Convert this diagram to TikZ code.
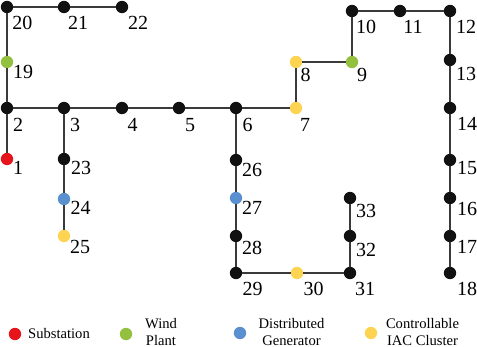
\documentclass[tikz,border=0pt]{standalone}
\usepackage{fontspec}
\setmainfont{Liberation Serif}
\definecolor{cRed}{HTML}{E8141C}
\definecolor{cGreen}{HTML}{93C13F}
\definecolor{cBlue}{HTML}{5A90CF}
\definecolor{cYellow}{HTML}{FDD452}
\definecolor{cBlack}{HTML}{111111}
\definecolor{cEdge}{HTML}{3A3A3A}
\begin{document}
\begin{tikzpicture}[x=1pt,y=-1pt,
  bus/.style={circle,fill=#1,inner sep=0pt,minimum size=12.4pt},
  bus/.default=cBlack,
  lbl/.style={inner sep=0pt,font=\fontsize{20}{24}\selectfont},
  wire/.style={draw=cEdge,line width=1.6pt},
  leg/.style={inner sep=0pt,font=\fontsize{14.6}{16.5}\selectfont,align=center}]
\useasboundingbox (0,0) rectangle (477,347);
% buses
\node[bus=cRed] (n1) at (7,159) {};
\node[bus] (n2) at (7,108) {};
\node[bus] (n3) at (64,108) {};
\node[bus] (n4) at (122,108) {};
\node[bus] (n5) at (179,108) {};
\node[bus] (n6) at (236,108) {};
\node[bus=cYellow] (n7) at (296,108) {};
\node[bus=cYellow] (n8) at (296,62) {};
\node[bus=cGreen] (n9) at (352,62) {};
\node[bus] (n10) at (352,11) {};
\node[bus] (n11) at (400,11) {};
\node[bus] (n12) at (450,11) {};
\node[bus] (n13) at (450,60) {};
\node[bus] (n14) at (450,108) {};
\node[bus] (n15) at (450,160) {};
\node[bus] (n16) at (450,198) {};
\node[bus] (n17) at (450,236) {};
\node[bus] (n18) at (450,273) {};
\node[bus=cGreen] (n19) at (7,62) {};
\node[bus] (n20) at (7,7) {};
\node[bus] (n21) at (64,7) {};
\node[bus] (n22) at (122,7) {};
\node[bus] (n23) at (64,159) {};
\node[bus=cBlue] (n24) at (64,199) {};
\node[bus=cYellow] (n25) at (64,236) {};
\node[bus] (n26) at (236,160) {};
\node[bus=cBlue] (n27) at (236,198) {};
\node[bus] (n28) at (236,236) {};
\node[bus] (n29) at (236,273) {};
\node[bus=cYellow] (n30) at (297,273) {};
\node[bus] (n31) at (350,273) {};
\node[bus] (n32) at (350,236) {};
\node[bus] (n33) at (350,198) {};
% lines
\draw[wire] (n20) -- (n21);
\draw[wire] (n21) -- (n22);
\draw[wire] (n20) -- (n19);
\draw[wire] (n19) -- (n2);
\draw[wire] (n2) -- (n1);
\draw[wire] (n2) -- (n3);
\draw[wire] (n3) -- (n4);
\draw[wire] (n4) -- (n5);
\draw[wire] (n5) -- (n6);
\draw[wire] (n6) -- (n7);
\draw[wire] (n7) -- (n8);
\draw[wire] (n8) -- (n9);
\draw[wire] (n9) -- (n10);
\draw[wire] (n10) -- (n11);
\draw[wire] (n11) -- (n12);
\draw[wire] (n12) -- (n13);
\draw[wire] (n13) -- (n14);
\draw[wire] (n14) -- (n15);
\draw[wire] (n15) -- (n16);
\draw[wire] (n16) -- (n17);
\draw[wire] (n17) -- (n18);
\draw[wire] (n3) -- (n23);
\draw[wire] (n23) -- (n24);
\draw[wire] (n24) -- (n25);
\draw[wire] (n6) -- (n26);
\draw[wire] (n26) -- (n27);
\draw[wire] (n27) -- (n28);
\draw[wire] (n28) -- (n29);
\draw[wire] (n29) -- (n30);
\draw[wire] (n30) -- (n31);
\draw[wire] (n31) -- (n32);
\draw[wire] (n32) -- (n33);
% labels
\node[lbl] (l1) at (18,168) {1};
\node[lbl] (l2) at (18,124.5) {2};
\node[lbl] (l3) at (75,124.5) {3};
\node[lbl] (l4) at (132.5,125) {4};
\node[lbl] (l5) at (190,125) {5};
\node[lbl] (l6) at (247.5,124.5) {6};
\node[lbl] (l7) at (305,124.5) {7};
\node[lbl] (l8) at (305.5,75) {8};
\node[lbl] (l9) at (362,75) {9};
\node[lbl] (l10) at (366,27) {10};
\node[lbl] (l11) at (413,27) {11};
\node[lbl] (l12) at (466,27) {12};
\node[lbl] (l13) at (466,74) {13};
\node[lbl] (l14) at (467,124) {14};
\node[lbl] (l15) at (467,168) {15};
\node[lbl] (l16) at (467,209) {16};
\node[lbl] (l17) at (467,247) {17};
\node[lbl] (l18) at (467,289) {18};
\node[lbl] (l19) at (23,72) {19};
\node[lbl] (l20) at (22.5,23) {20};
\node[lbl] (l21) at (78,23) {21};
\node[lbl] (l22) at (138,23) {22};
\node[lbl] (l23) at (81,168) {23};
\node[lbl] (l24) at (80.5,208) {24};
\node[lbl] (l25) at (80,247) {25};
\node[lbl] (l26) at (252,170) {26};
\node[lbl] (l27) at (252,208) {27};
\node[lbl] (l28) at (252,248) {28};
\node[lbl] (l29) at (252.5,289) {29};
\node[lbl] (l30) at (313.5,289) {30};
\node[lbl] (l31) at (365,289) {31};
\node[lbl] (l32) at (366,250) {32};
\node[lbl] (l33) at (366,211) {33};
% legend
\node[bus=cRed] (k1) at (15,334) {};
\node[leg] (t1) at (59,334) {Substation};
\node[bus=cGreen] (k2) at (126,334) {};
\node[leg] (t2) at (161,332) {Wind\\Plant};
\node[bus=cBlue] (k3) at (240,333) {};
\node[leg] (t3) at (291.5,332) {Distributed\\Generator};
\node[bus=cYellow] (k4) at (371,333) {};
\node[leg] (t4) at (422.5,332) {Controllable\\IAC Cluster};
\end{tikzpicture}
\end{document}
